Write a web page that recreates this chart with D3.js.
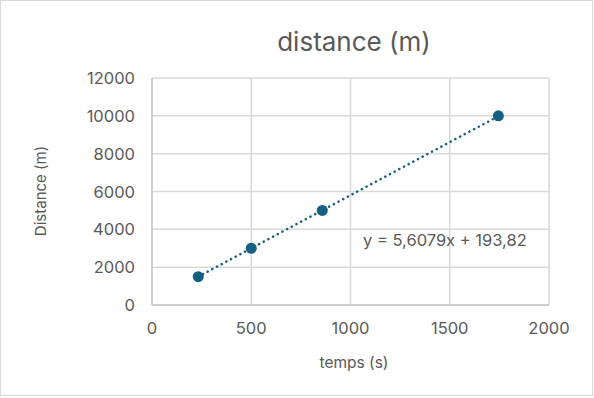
<!DOCTYPE html>
<html>
<head>
<meta charset="utf-8">
<script src="https://cdn.jsdelivr.net/npm/d3@7"></script>
<style>
  body { margin: 0; background: #fff; }
  text { font-family: Inter, "Open Sans", sans-serif; fill: #595959; }
</style>
</head>
<body>
<svg id="chart" width="594" height="398"></svg>
<script>
// data
const times = [233, 500, 858, 1745];
const distances = [1500, 3000, 5000, 10000];
const xTicks = [0, 500, 1000, 1500, 2000];
const yTicks = [0, 2000, 4000, 6000, 8000, 10000, 12000];
const slope = 5.6079, intercept = 193.82;
const equationLabel = "y = 5,6079x + 193,82";

const svg = d3.select("#chart");
const margin = {left: 152, right: 45, top: 78, bottom: 93};
const W = 594, H = 398;

let x = d3.scaleLinear().domain([0, 2000]).range([margin.left, W - margin.right]),
    y = d3.scaleLinear().domain([0, 12000]).range([H - margin.bottom, margin.top]);

// outer border
svg.append("rect")
    .attr("x", 0.5).attr("y", 0.5)
    .attr("width", 592).attr("height", 395)
    .attr("fill", "#fff")
    .attr("stroke", "#d9d9d9");

// gridlines
svg.append("g").selectAll("line.gx")
    .data(xTicks.slice(1))
    .enter().append("line")
    .attr("x1", d => x(d)).attr("x2", d => x(d))
    .attr("y1", y(0)).attr("y2", y(12000))
    .attr("stroke", "#d9d9d9").attr("stroke-width", 1.5);

svg.append("g").selectAll("line.gy")
    .data(yTicks.slice(1))
    .enter().append("line")
    .attr("x1", x(0)).attr("x2", x(2000))
    .attr("y1", d => y(d)).attr("y2", d => y(d))
    .attr("stroke", "#d9d9d9").attr("stroke-width", 1.5);

// axis lines
svg.append("line")
    .attr("x1", x(0)).attr("x2", x(2000))
    .attr("y1", y(0)).attr("y2", y(0))
    .attr("stroke", "#bfbfbf").attr("stroke-width", 1.5);
svg.append("line")
    .attr("x1", x(0)).attr("x2", x(0))
    .attr("y1", y(0)).attr("y2", y(12000))
    .attr("stroke", "#bfbfbf").attr("stroke-width", 1.5);

// tick labels
svg.append("g").selectAll("text")
    .data(xTicks)
    .enter().append("text")
    .attr("x", d => x(d)).attr("y", y(0) + 29)
    .attr("text-anchor", "middle")
    .attr("font-size", 16.5)
    .text(d => d);

svg.append("g").selectAll("text")
    .data(yTicks)
    .enter().append("text")
    .attr("x", x(0) - 17).attr("y", d => y(d) + 6)
    .attr("text-anchor", "end")
    .attr("font-size", 16.5)
    .text(d => d);

// titles
svg.append("text")
    .attr("x", 354).attr("y", 51)
    .attr("text-anchor", "middle")
    .attr("font-size", 26)
    .text("distance (m)");

svg.append("text")
    .attr("x", 354).attr("y", 368)
    .attr("text-anchor", "middle")
    .attr("font-size", 15.5)
    .text("temps (s)");

svg.append("text")
    .attr("transform", "translate(46,191) rotate(-90)")
    .attr("text-anchor", "middle")
    .attr("font-size", 15)
    .text("Distance (m)");

// trendline (dotted), spans min..max x
let xMin = d3.min(times), xMax = d3.max(times);
svg.append("line")
    .attr("x1", x(xMin)).attr("y1", y(slope * xMin + intercept))
    .attr("x2", x(xMax)).attr("y2", y(slope * xMax + intercept))
    .attr("stroke", "#156082")
    .attr("stroke-width", 2.5)
    .attr("stroke-linecap", "round")
    .attr("stroke-dasharray", "0.1 5.2");

// points
svg.append("g").selectAll("circle")
    .data(times.map((t, i) => ({t: t, d: distances[i]})))
    .enter().append("circle")
    .attr("cx", p => x(p.t))
    .attr("cy", p => y(p.d))
    .attr("r", 5.5)
    .attr("fill", "#156082");

svg.append("text")
    .attr("x", 363).attr("y", 246)
    .attr("font-size", 16.5)
    .text(equationLabel);
</script>
</body>
</html>
